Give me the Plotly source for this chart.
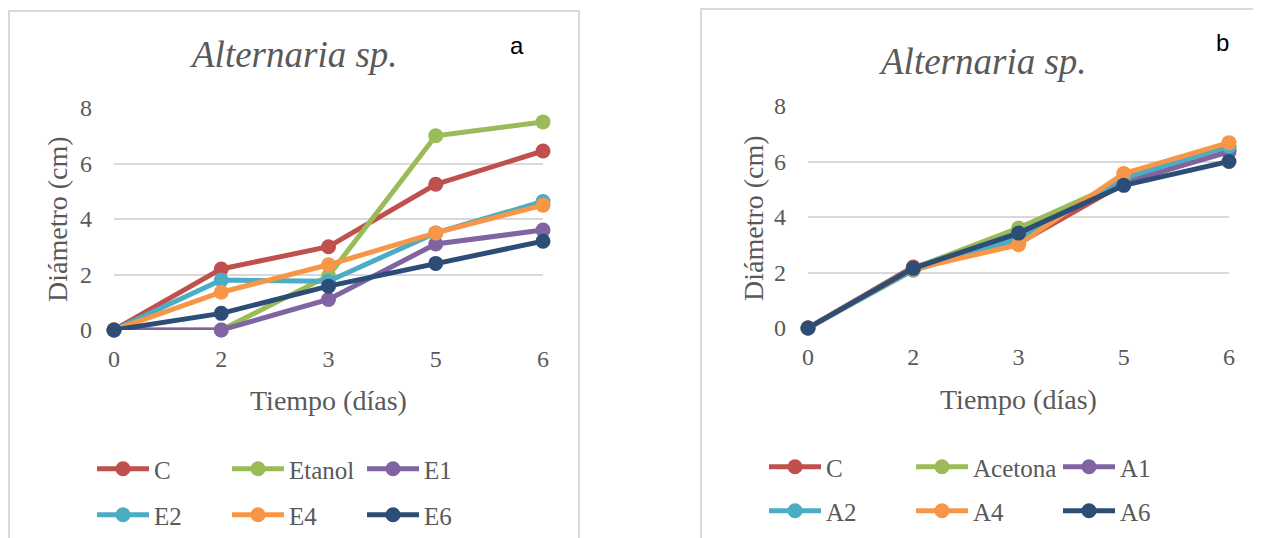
import plotly.graph_objects as go

dias = ["0", "2", "3", "5", "6"]

# Panel a (Etanol extracts)
series_a_names = ["C", "Etanol", "E1", "E2", "E4", "E6"]
a_C = [0, 2.2, 3.0, 5.25, 6.45]
a_Etanol = [0, 0, 1.95, 7.0, 7.5]
a_E1 = [0, 0, 1.1, 3.1, 3.6]
a_E2 = [0, 1.8, 1.76, 3.5, 4.63]
a_E4 = [0, 1.36, 2.35, 3.5, 4.5]
a_E6 = [0, 0.6, 1.58, 2.4, 3.2]

# Panel b (Acetona extracts)
series_b_names = ["C", "Acetona", "A1", "A2", "A4", "A6"]
b_C = [0, 2.2, 3.05, 5.2, 6.4]
b_Acetona = [0, 2.15, 3.6, 5.3, 6.55]
b_A1 = [0, 2.15, 3.3, 5.25, 6.35]
b_A2 = [0, 2.08, 3.2, 5.4, 6.55]
b_A4 = [0, 2.12, 3.0, 5.57, 6.68]
b_A6 = [0, 2.15, 3.42, 5.14, 6.0]

colors = ["#C0504D", "#9BBB59", "#8064A2", "#4BACC6", "#F79646", "#2C4D75"]

# The page body has an 8px default margin, so the figure is placed at (8, 8)
# inside the 1261x538 window; target pixel positions below are window pixels.
PAGE_W, PAGE_H = 1261, 538
OFF = 8
W, H = PAGE_W - OFF, PAGE_H - OFF

def px_x(p):
    return (p - OFF) / W

def px_y(p):
    return (PAGE_H - p) / H

fig = go.Figure()

serif = "Liberation Serif"
txt = "#595959"

data_a = [a_C, a_Etanol, a_E1, a_E2, a_E4, a_E6]
data_b = [b_C, b_Acetona, b_A1, b_A2, b_A4, b_A6]

for i, (name, vals) in enumerate(zip(series_a_names, data_a)):
    fig.add_trace(go.Scatter(
        x=dias, y=vals, name=name, mode="lines+markers",
        line=dict(color=colors[i], width=5),
        marker=dict(color=colors[i], size=15),
        xaxis="x", yaxis="y", cliponaxis=False,
        legend="legend" if i < 3 else "legend2",
    ))
for i, (name, vals) in enumerate(zip(series_b_names, data_b)):
    fig.add_trace(go.Scatter(
        x=dias, y=vals, name=name, mode="lines+markers",
        line=dict(color=colors[i], width=5),
        marker=dict(color=colors[i], size=15),
        xaxis="x2", yaxis="y2", cliponaxis=False,
        legend="legend3" if i < 3 else "legend4",
    ))

xaxis_common = dict(type="category", range=[0, 4], showgrid=False, zeroline=False,
                    showline=False, ticks="", ticklabelstandoff=12, automargin=False,
                    tickfont=dict(family=serif, size=24, color=txt), fixedrange=True)
yaxis_common = dict(range=[0, 8], dtick=2, showgrid=True, gridcolor="#D9D9D9", gridwidth=1.5,
                    zeroline=False, showline=False, ticks="", ticklabelstandoff=21,
                    automargin=False,
                    tickfont=dict(family=serif, size=24, color=txt), fixedrange=True)

def legend_cfg(x, y, ew):
    return dict(orientation="h", xanchor="left", yanchor="middle",
                x=px_x(x), y=px_y(y),
                font=dict(family=serif, size=25, color=txt),
                entrywidth=ew, entrywidthmode="pixels", itemwidth=52,
                bgcolor="rgba(0,0,0,0)", tracegroupgap=0, itemclick=False)

fig.update_layout(
    template="none",
    width=W, height=H,
    margin=dict(l=0, r=0, t=0, b=0, pad=0),
    paper_bgcolor="white", plot_bgcolor="white",
    showlegend=True,
    xaxis=dict(domain=[px_x(114), px_x(543)], anchor="y", **xaxis_common),
    yaxis=dict(domain=[px_y(330), px_y(108)], anchor="x", **yaxis_common),
    xaxis2=dict(domain=[px_x(808), px_x(1229)], anchor="y2", **xaxis_common),
    yaxis2=dict(domain=[px_y(328), px_y(106)], anchor="x2", **yaxis_common),
    legend=legend_cfg(92, 469, 68),
    legend2=legend_cfg(92, 515, 68),
    legend3=legend_cfg(764, 467, 80),
    legend4=legend_cfg(764, 511, 80),
)

# Chart frames
fig.add_shape(type="rect", xref="paper", yref="paper",
              x0=px_x(9), x1=px_x(579), y0=-0.05, y1=px_y(11),
              line=dict(color="#D9D9D9", width=2), layer="below")
fig.add_shape(type="rect", xref="paper", yref="paper",
              x0=px_x(701), x1=1.05, y0=-0.05, y1=px_y(9),
              line=dict(color="#D9D9D9", width=2), layer="below")

annotations = [
    dict(text="<i>Alternaria sp.</i>", x=px_x(293), y=px_y(55),
         font=dict(family=serif, size=37, color=txt)),
    dict(text="<i>Alternaria sp.</i>", x=px_x(982), y=px_y(62),
         font=dict(family=serif, size=37, color=txt)),
    dict(text="a", x=px_x(517), y=px_y(46),
         font=dict(family="Liberation Sans", size=24, color="#000000")),
    dict(text="b", x=px_x(1222), y=px_y(43),
         font=dict(family="Liberation Sans", size=24, color="#000000")),
    dict(text="Diámetro (cm)", x=px_x(57), y=px_y(219), textangle=-90,
         font=dict(family=serif, size=28, color=txt)),
    dict(text="Diámetro (cm)", x=px_x(753), y=px_y(218), textangle=-90,
         font=dict(family=serif, size=28, color=txt)),
    dict(text="Tiempo (días)", x=px_x(328), y=px_y(400),
         font=dict(family=serif, size=28, color=txt)),
    dict(text="Tiempo (días)", x=px_x(1019), y=px_y(399),
         font=dict(family=serif, size=28, color=txt)),
]
for a in annotations:
    fig.add_annotation(xref="paper", yref="paper", showarrow=False,
                       xanchor="center", yanchor="middle", **a)

fig.write_html("out.html")
